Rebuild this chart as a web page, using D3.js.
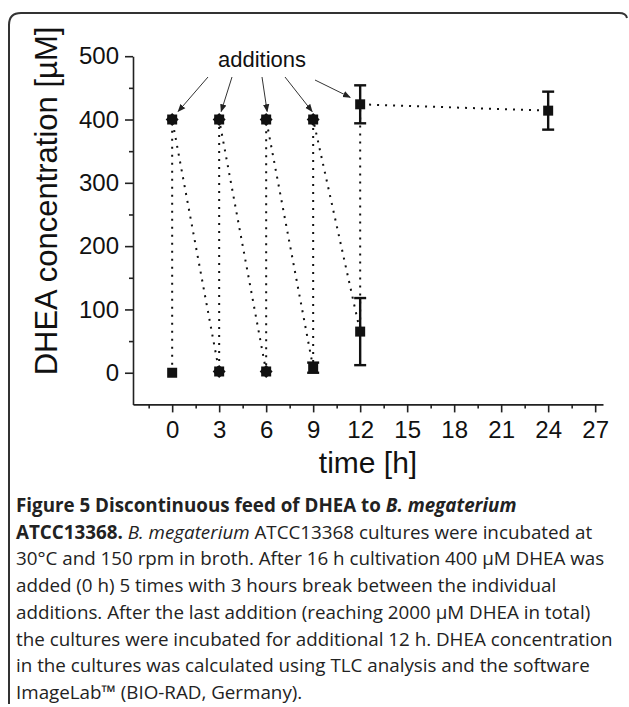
<!DOCTYPE html>
<html>
<head>
<meta charset="utf-8">
<script src="https://cdn.jsdelivr.net/npm/d3@7"></script>
<style>
  html, body { margin: 0; padding: 0; background: #fff; }
  svg { display: block; }
</style>
</head>
<body>
<svg id="chart" width="629" height="707"></svg>
<script>
// DHEA feed experiment: sampling order follows the dotted line
const time   = [0, 0, 3, 3, 6, 6, 9, 9, 12, 12, 24];
const dhea   = [0, 400, 2, 400, 2, 400, 8, 400, 65, 424, 414];
const errBar = [0, 0, 0, 0, 0, 0, 8, 0, 53, 30, 30];
const shape  = ["square", "blob", "blob", "blob", "blob", "blob", "square", "blob", "square", "square", "square"];

const xTicks = [0, 3, 6, 9, 12, 15, 18, 21, 24, 27];
const xMinor = [-1.5, 1.5, 4.5, 7.5, 10.5, 13.5, 16.5, 19.5, 22.5, 25.5];
const yTicks = [0, 100, 200, 300, 400, 500];
const yMinor = [50, 150, 250, 350, 450];

// addition points the arrows point at (index into the arrays above)
const additionIdx = [1, 3, 5, 7, 9];

const caption = [
    [["Figure 5 Discontinuous feed of DHEA to ", "b"], ["B. megaterium", "bi"]],
    [["ATCC13368.", "b"], [" ", ""], ["B. megaterium", "i"], [" ATCC13368 cultures were incubated at", ""]],
    [["30°C and 150 rpm in broth. After 16 h cultivation 400 µM DHEA was", ""]],
    [["added (0 h) 5 times with 3 hours break between the individual", ""]],
    [["additions. After the last addition (reaching 2000 µM DHEA in total)", ""]],
    [["the cultures were incubated for additional 12 h. DHEA concentration", ""]],
    [["in the cultures was calculated using TLC analysis and the software", ""]],
    [["ImageLab™ (BIO-RAD, Germany).", ""]]
];

const svg = d3.select("#chart");
const ink = "#111";
const axisFont = "'Liberation Sans', Arial, sans-serif";

// frame (open at the bottom and the right)
svg.append("path")
    .attr("d", "M9,704 L9,25 Q9,13 21,13 L619,13 Q626,13 627,18")
    .attr("fill", "none")
    .attr("stroke", "#333")
    .attr("stroke-width", 2);

const x = d3.scaleLinear().domain([-2.5, 27.5]).range([133, 603]);
const y = d3.scaleLinear().domain([-50, 500]).range([404.4, 56.2]);

// axes
svg.append("g")
    .attr("transform", `translate(0,${y(-50)})`)
    .call(d3.axisBottom(x).tickValues(xTicks).tickSize(8).tickSizeOuter(0).tickPadding(9));
svg.append("g")
    .attr("transform", `translate(0,${y(-50)})`)
    .call(d3.axisBottom(x).tickValues(xMinor).tickSize(4).tickSizeOuter(0).tickFormat(""))
    .select(".domain").remove();

svg.append("g")
    .attr("transform", `translate(${x(-2.5)},0)`)
    .call(d3.axisLeft(y).tickValues(yTicks).tickSize(8).tickSizeOuter(0).tickPadding(6));
svg.append("g")
    .attr("transform", `translate(${x(-2.5)},0)`)
    .call(d3.axisLeft(y).tickValues(yMinor).tickSize(4).tickSizeOuter(0).tickFormat(""))
    .select(".domain").remove();

svg.selectAll(".domain, .tick line")
    .attr("stroke", "#222")
    .attr("stroke-width", 1.6);
svg.selectAll(".tick text")
    .attr("font-family", axisFont)
    .attr("font-size", 24)
    .attr("fill", ink);

// axis titles
svg.append("text")
    .attr("x", 368)
    .attr("y", 473)
    .attr("text-anchor", "middle")
    .attr("font-family", axisFont)
    .attr("font-size", 30)
    .attr("fill", ink)
    .text("time [h]");

svg.append("text")
    .attr("transform", "translate(57,201) rotate(-90)")
    .attr("text-anchor", "middle")
    .attr("font-family", axisFont)
    .attr("font-size", 31)
    .attr("fill", ink)
    .text("DHEA concentration [µM]");

// dotted connecting line
const points = time.map((t, i) => ({ t: t, v: dhea[i], e: errBar[i], s: shape[i] }));

svg.append("path")
    .datum(points)
    .attr("d", d3.line().x(d => x(d.t)).y(d => y(d.v)))
    .attr("fill", "none")
    .attr("stroke", ink)
    .attr("stroke-width", 2)
    .attr("stroke-dasharray", "2,6");

// error bars
const withErr = points.filter(d => d.e > 0);
const eb = svg.append("g").attr("stroke", ink).attr("stroke-width", 2.4);
eb.selectAll(".stem").data(withErr).enter().append("line")
    .attr("x1", d => x(d.t)).attr("x2", d => x(d.t))
    .attr("y1", d => y(d.v - d.e)).attr("y2", d => y(d.v + d.e));
eb.selectAll(".capTop").data(withErr).enter().append("line")
    .attr("x1", d => x(d.t) - 6).attr("x2", d => x(d.t) + 6)
    .attr("y1", d => y(d.v + d.e)).attr("y2", d => y(d.v + d.e));
eb.selectAll(".capBot").data(withErr).enter().append("line")
    .attr("x1", d => x(d.t) - 6).attr("x2", d => x(d.t) + 6)
    .attr("y1", d => y(d.v - d.e)).attr("y2", d => y(d.v - d.e));

// markers
const sq = d3.symbol().type(d3.symbolSquare).size(100);
const mk = svg.append("g").attr("fill", ink);
mk.selectAll(".sq").data(points).enter().append("path")
    .attr("d", sq)
    .attr("transform", d => `translate(${x(d.t)},${y(d.v)})`);
mk.selectAll(".blob").data(points.filter(d => d.s === "blob")).enter().append("path")
    .attr("d", d3.symbol().type(d3.symbolSquare).size(84))
    .attr("transform", d => `translate(${x(d.t)},${y(d.v)}) rotate(45)`);

// "additions" annotation with arrows
const defs = svg.append("defs");
defs.append("marker")
    .attr("id", "head")
    .attr("viewBox", "0 0 10 10")
    .attr("refX", 9).attr("refY", 5)
    .attr("markerWidth", 8).attr("markerHeight", 8)
    .attr("markerUnits", "userSpaceOnUse")
    .attr("orient", "auto")
    .append("path")
    .attr("d", "M0,1 L10,5 L0,9 Z")
    .attr("fill", "#222");

const labelX = 262, labelY = 67;
svg.append("text")
    .attr("x", labelX)
    .attr("y", labelY)
    .attr("text-anchor", "middle")
    .attr("font-family", axisFont)
    .attr("font-size", 22)
    .attr("fill", ink)
    .text("additions");

const arrowStart = [[-54, 10], [-30, 10], [0, 10], [23, 10], [53, 13]];
const arrowEnd = [[6, -8], [2, -8], [1, -8], [-1, -8], [-10, -7]];
svg.append("g").selectAll("line").data(additionIdx).enter().append("line")
    .attr("x1", (d, i) => labelX + arrowStart[i][0])
    .attr("y1", (d, i) => labelY + arrowStart[i][1])
    .attr("x2", (d, i) => x(time[d]) + arrowEnd[i][0])
    .attr("y2", (d, i) => y(dhea[d]) + arrowEnd[i][1])
    .attr("stroke", "#333")
    .attr("stroke-width", 1)
    .attr("marker-end", "url(#head)");

// caption
const capFont = "'Open Sans', 'Noto Sans', sans-serif";
const cap = svg.append("g");
caption.forEach((line, i) => {
    const t = cap.append("text")
        .attr("x", 16)
        .attr("y", 512 + i * 26.7)
        .attr("font-family", capFont)
        .attr("font-size", 18.8)
        .attr("fill", "#222");
    line.forEach(([str, st]) => {
        t.append("tspan")
            .attr("font-weight", st.includes("b") ? "bold" : "normal")
            .attr("font-style", st.includes("i") ? "italic" : "normal")
            .attr("xml:space", "preserve")
            .text(str);
    });
});
</script>
</body>
</html>
